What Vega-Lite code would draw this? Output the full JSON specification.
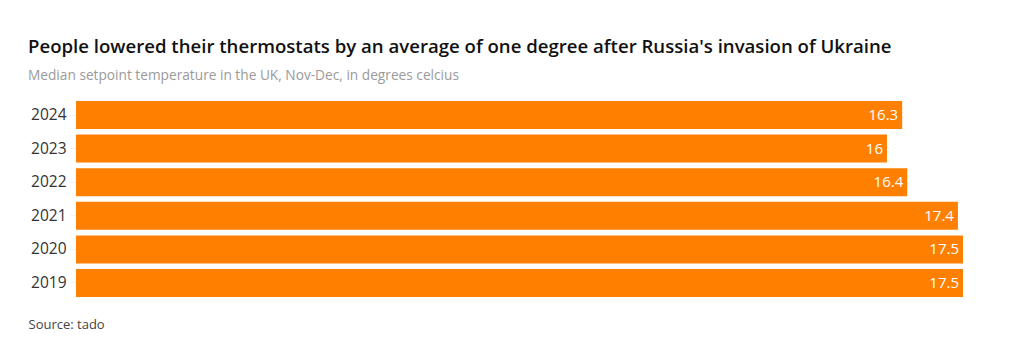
{
  "$schema": "https://vega.github.io/schema/vega-lite/v6.json",
  "autosize": {"type": "none"},
  "padding": {"left": 76, "top": 99, "right": 57, "bottom": 60},
  "width": 887,
  "height": 200,
  "background": "white",
  "title": {
    "text": "People lowered their thermostats by an average of one degree after Russia's invasion of Ukraine",
    "subtitle": "Median setpoint temperature in the UK, Nov-Dec, in degrees celcius",
    "anchor": "start",
    "frame": "group",
    "dx": -48,
    "offset": 16,
    "font": "Open Sans",
    "fontSize": 18.6,
    "fontWeight": 600,
    "color": "#111111",
    "subtitleFont": "Open Sans",
    "subtitleFontSize": 13.7,
    "subtitleColor": "#9a9a9a",
    "subtitlePadding": 13
  },
  "data": {
    "values": [
      {"year": "2024", "temp": 16.3},
      {"year": "2023", "temp": 16},
      {"year": "2022", "temp": 16.4},
      {"year": "2021", "temp": 17.4},
      {"year": "2020", "temp": 17.5},
      {"year": "2019", "temp": 17.5}
    ]
  },
  "encoding": {
    "y": {
      "field": "year",
      "type": "nominal",
      "sort": null,
      "scale": {"paddingInner": 0.167, "paddingOuter": 0.06},
      "axis": {
        "title": null,
        "domain": false,
        "ticks": true,
        "tickColor": "#eef2f5",
        "tickSize": 6,
        "labelPadding": 4,
        "labelFont": "Open Sans",
        "labelFontSize": 15.5,
        "labelColor": "#333333"
      }
    },
    "x": {
      "field": "temp",
      "type": "quantitative",
      "scale": {"domain": [0, 17.5], "nice": false},
      "axis": {
        "title": "Source: tado",
        "titleFont": "Open Sans",
        "titleFontSize": 13,
        "titleFontWeight": "normal",
        "titleColor": "#444444",
        "titleAnchor": "start",
        "titleAlign": "left",
        "titleX": -48,
        "titleY": 29,
        "titleBaseline": "alphabetic",
        "labels": false,
        "ticks": false,
        "domain": false,
        "grid": false
      }
    }
  },
  "layer": [
    {"mark": {"type": "bar", "color": "#ff7f00"}},
    {
      "mark": {
        "type": "text",
        "align": "right",
        "baseline": "middle",
        "dx": -4,
        "color": "white",
        "font": "Open Sans",
        "fontSize": 15
      },
      "encoding": {"text": {"field": "temp", "type": "quantitative"}}
    }
  ],
  "config": {"view": {"stroke": null}}
}
